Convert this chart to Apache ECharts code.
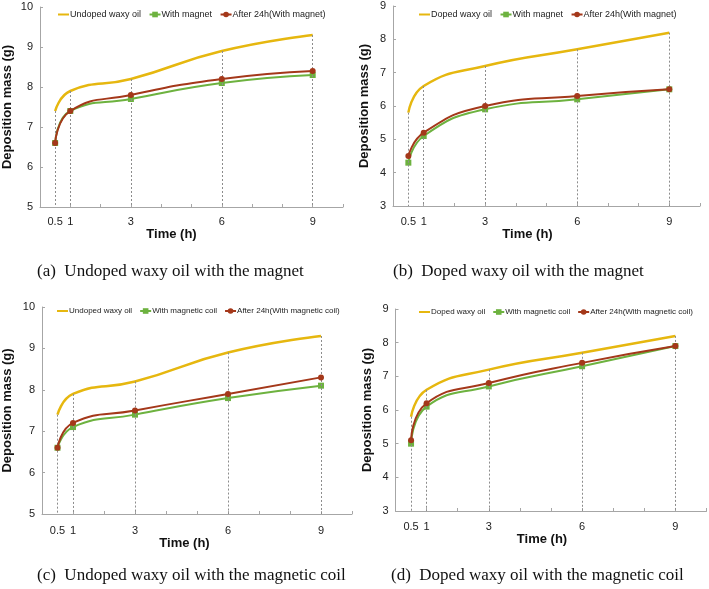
<!DOCTYPE html>
<html><head><meta charset="utf-8">
<script src="https://cdn.jsdelivr.net/npm/echarts@6/dist/echarts.min.js"></script>
<style>html,body{margin:0;padding:0;background:#fff}#c{width:709px;height:589px}</style>
</head><body><div id="c"></div>
<script>
// ---- data ----
const times = [0.5, 1, 3, 6, 9];
const xTickLabels = [0.5, 1, 3, 6, 9];
const undopedOil = [7.4, 7.9, 8.2, 8.9, 9.3];
const dopedOil = [5.8, 6.6, 7.2, 7.7, 8.2];
const undopedMagnet = [6.6, 7.4, 7.7, 8.1, 8.3];
const undopedMagnet24h = [6.6, 7.4, 7.8, 8.2, 8.4];
const dopedMagnet = [4.3, 5.1, 5.9, 6.2, 6.5];
const dopedMagnet24h = [4.5, 5.2, 6.0, 6.3, 6.5];
const undopedCoil = [6.6, 7.1, 7.4, 7.8, 8.1];
const undopedCoil24h = [6.6, 7.2, 7.5, 7.9, 8.3];
const dopedCoil = [5.0, 6.1, 6.7, 7.3, 7.9];
const dopedCoil24h = [5.1, 6.2, 6.8, 7.4, 7.9];
const captions = [
  '(a)  Undoped waxy oil with the magnet',
  '(b)  Doped waxy oil with the magnet',
  '(c)  Undoped waxy oil with the magnetic coil',
  '(d)  Doped waxy oil with the magnetic coil'
];

// ---- layout ----
const panels = [
  {grid:{left:35,top:7,width:308,height:200}, yMin:5, yMax:10,
   names:['Undoped waxy oil','With magnet','After 24h(With magnet)'],
   data:[undopedOil, undopedMagnet, undopedMagnet24h],
   legend:{left:57, top:10, fs:9, gap:7.5}, yNameGap:26, xNamePad:40, xNameGap:19, xLabelMargin:9,
   cap:{left:37, top:263}},
  {grid:{left:393,top:6,width:307,height:200}, yMin:3, yMax:9,
   names:['Doped waxy oil','With magnet','After 24h(With magnet)'],
   data:[dopedOil, dopedMagnet, dopedMagnet24h],
   legend:{left:418, top:10, fs:9, gap:7.5}, yNameGap:22, xNamePad:38, xNameGap:19, xLabelMargin:10,
   cap:{left:393, top:263}},
  {grid:{left:35,top:307,width:317,height:207}, yMin:5, yMax:10,
   names:['Undoped waxy oil','With magnetic coil','After 24h(With magnetic coil)'],
   data:[undopedOil, undopedCoil, undopedCoil24h],
   legend:{left:56, top:307, fs:8, gap:7}, yNameGap:28, xNamePad:25, xNameGap:22, xLabelMargin:11,
   cap:{left:37, top:567}},
  {grid:{left:395.5,top:309,width:311,height:202}, yMin:3, yMax:9,
   names:['Doped waxy oil','With magnetic coil','After 24h(With magnetic coil)'],
   data:[dopedOil, dopedCoil, dopedCoil24h],
   legend:{left:418, top:308, fs:8, gap:7}, yNameGap:22, xNamePad:18, xNameGap:21, xLabelMargin:10.5,
   cap:{left:391, top:567}}
];

const FONT = 'Liberation Sans';
const axisColor = '#a6a6a6';
const colors = ['#E6B70F', '#6DB23F', '#A4381A'];

const option = {
  animation: false,
  textStyle: {fontFamily: FONT},
  grid: [], xAxis: [], yAxis: [], series: [], legend: [], graphic: []
};

panels.forEach((p, gi) => {
  option.grid.push(Object.assign({containLabel:false}, p.grid));
  option.xAxis.push({
    type:'value', gridIndex:gi, min:0, max:10, interval:1,
    name:'Time (h)', nameLocation:'middle', nameGap:p.xNameGap,
    nameTextStyle:{fontFamily:FONT, fontWeight:'bold', fontSize:13, color:'#111', padding:[0,p.xNamePad,0,0]},
    axisLine:{lineStyle:{color:axisColor, width:1}},
    axisTick:{show:true, inside:true, length:3, lineStyle:{color:axisColor}},
    axisLabel:{customValues:xTickLabels, margin:p.xLabelMargin, fontSize:11, color:'#222', fontFamily:FONT},
    splitLine:{show:false}
  });
  option.yAxis.push({
    type:'value', gridIndex:gi, min:p.yMin, max:p.yMax, interval:1,
    name:'Deposition mass (g)', nameLocation:'middle', nameGap:p.yNameGap,
    nameTextStyle:{fontFamily:FONT, fontWeight:'bold', fontSize:13, color:'#111'},
    axisLine:{show:true, lineStyle:{color:axisColor, width:1}},
    axisTick:{show:true, inside:true, length:3, lineStyle:{color:axisColor}},
    axisLabel:{margin:7, fontSize:11, color:'#222', fontFamily:FONT},
    splitLine:{show:false}
  });
  const symbols = ['none', 'rect', 'circle'];
  p.names.forEach((nm, si) => {
    const s = {
      type:'line', name:nm, xAxisIndex:gi, yAxisIndex:gi,
      data: times.map((t, i) => [t, p.data[si][i]]),
      smooth: 0.5,
      symbol: symbols[si], symbolSize: 6, showSymbol: si > 0,
      lineStyle:{color:colors[si], width: si === 0 ? 2.5 : 2},
      itemStyle:{color:colors[si]},
      z: 3 + si
    };
    if (si === 0) {
      s.markLine = {
        silent:true, symbol:['none','none'], label:{show:false},
        lineStyle:{color:'#8c8c8c', type:[2,2], width:1},
        animation:false,
        data: times.map((t, i) => [{coord:[t, p.data[0][i]]}, {coord:[t, p.yMin]}])
      };
    }
    option.series.push(s);
  });
  option.legend.push({
    left:p.legend.left, top:p.legend.top, width:300, orient:'horizontal',
    padding:0, itemWidth:11, itemHeight:7, itemGap:p.legend.gap,
    selectedMode:false,
    textStyle:{fontSize:p.legend.fs, color:'#222', fontFamily:FONT, padding:[0,0,0,-4]},
    data: p.names.map((nm, si) => si === 0 ? {name:nm, itemStyle:{opacity:0}} : nm)
  });
  option.graphic.push({
    type:'text', left:p.cap.left, top:p.cap.top,
    style:{text:captions[gi], font:'17px "Liberation Serif"', fill:'#111'}
  });
});

const chart = echarts.init(document.getElementById('c'), null, {renderer:'canvas'});
chart.setOption(option);
</script>
</body></html>
